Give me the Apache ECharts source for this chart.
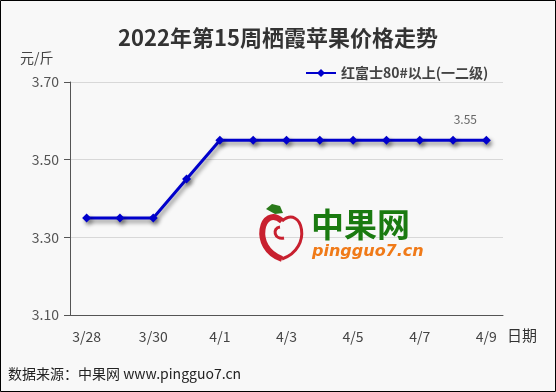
<!DOCTYPE html>
<html><head><meta charset="utf-8">
<script src="https://cdn.jsdelivr.net/npm/echarts@6/dist/echarts.min.js"></script>
<style>html,body{margin:0;padding:0;background:#f8f8f8}#c{width:556px;height:392px}</style>
</head><body><div id="c"></div>
<script>
const categories = ['3/28','3/29','3/30','3/31','4/1','4/2','4/3','4/4','4/5','4/6','4/7','4/8','4/9'];
const prices = [3.35,3.35,3.35,3.45,3.55,3.55,3.55,3.55,3.55,3.55,3.55,3.55,3.55];
const seriesName = '红富士80#以上(一二级)';
const yTicks = {min:3.1, max:3.7, interval:0.2};

const font = '"Noto Sans CJK SC", "Noto Sans", sans-serif';
const chart = echarts.init(document.getElementById('c'), null, {renderer:'canvas'});
const data = prices.map((v,i)=> i===prices.length-1 ? {value:v, label:{show:true}} : v);
chart.setOption({
  backgroundColor:'#f8f8f8',
  animation:false,
  title:{text:'2022年第15周栖霞苹果价格走势', left:'center', top:22,
    textStyle:{fontFamily:font, fontSize:22, fontWeight:'bold', color:'#333'}},
  legend:{data:[seriesName], left:300, top:61, itemWidth:30, itemHeight:10, itemGap:6,
    textStyle:{fontFamily:font, fontSize:14, fontWeight:'bold', color:'#444'}},
  grid:{left:70, right:53, top:82, bottom:77},
  xAxis:{type:'category', data:categories, boundaryGap:true,
    axisLine:{lineStyle:{color:'#555', width:1}},
    axisTick:{interval:0, length:5, lineStyle:{color:'#555'}},
    axisLabel:{interval:1, margin:15, fontFamily:font, fontSize:14, color:'#444'}},
  yAxis:{type:'value', min:yTicks.min, max:yTicks.max, interval:yTicks.interval,
    axisLine:{show:true, lineStyle:{color:'#555'}},
    axisTick:{show:true, length:6, lineStyle:{color:'#555'}},
    splitLine:{lineStyle:{color:'#d8d8d8'}},
    axisLabel:{fontFamily:font, fontSize:14, color:'#555', margin:11,
      formatter:v=>v.toFixed(2)}},
  series:[{name:seriesName, type:'line', data:data, symbol:'diamond', symbolSize:9,
    lineStyle:{color:'#0000cc', width:3, shadowColor:'rgba(0,0,0,0.45)', shadowBlur:4, shadowOffsetX:2, shadowOffsetY:3},
    itemStyle:{color:'#0000cc', shadowColor:'rgba(0,0,0,0.45)', shadowBlur:4, shadowOffsetX:2, shadowOffsetY:3},
    label:{show:false, position:'top', distance:10, offset:[-21,0], fontFamily:font, fontSize:12, color:'#666',
      formatter:p=>p.value.toFixed(2)},
    z:3}],
  graphic:[
    {type:'rect', z:100, shape:{x:0.5, y:0.5, width:555, height:391}, style:{fill:'none', stroke:'#000', lineWidth:1}, silent:true},
    {type:'text', x:20, y:51, style:{text:'元/斤', font:'14px '+font, fill:'#444'}},
    {type:'text', x:507, y:328, style:{text:'日期', font:'15px '+font, fill:'#333'}},
    {type:'text', x:8, y:367, style:{text:'数据来源：中果网 www.pingguo7.cn', font:'14px '+font, fill:'#222'}},
    {type:'bezierCurve', z:1, shape:{x1:282,y1:221,cpx1:262,cpy1:204,cpx2:250,cpy2:248,x2:282,y2:259},
      style:{fill:'none', stroke:'#c8202f', lineWidth:6}},
    {type:'bezierCurve', z:1, shape:{x1:282,y1:221,cpx1:302,cpy1:204,cpx2:314,cpy2:248,x2:282,y2:259},
      style:{fill:'none', stroke:'#c8202f', lineWidth:3}},
    {type:'bezierCurve', z:1, shape:{x1:284,y1:238,cpx1:274,cpy1:240,cpx2:272,cpy2:228,x2:280,y2:227},
      style:{fill:'none', stroke:'#c8202f', lineWidth:3}},
    {type:'polygon', z:1, shape:{points:[[266,209],[272,204],[280,206],[283,213],[275,214]]},
      style:{fill:'#2a7a1a'}},
    {type:'text', z:1, x:311, y:208, style:{text:'中果网', font:'bold 33px '+font, fill:'#1a7a10'}},
    {type:'text', z:1, x:312, y:244, style:{text:'pingguo7.cn', font:'italic bold 16px "DejaVu Sans", sans-serif', fill:'#f07a18'}}
  ]
});
</script></body></html>
